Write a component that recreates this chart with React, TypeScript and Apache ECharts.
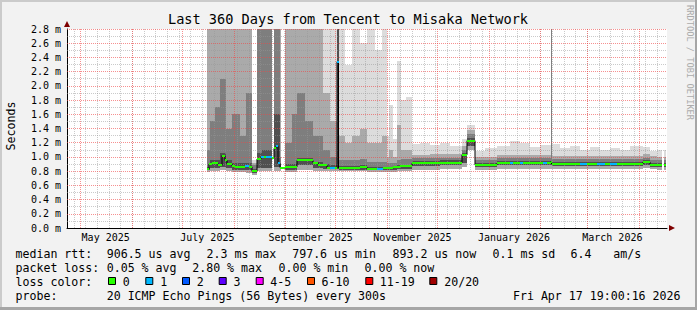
import React, { useEffect, useRef } from "react";
import * as echarts from "echarts";

// ---------- texts ----------
const TITLE = "Last 360 Days from Tencent to Misaka Network";
const Y_TITLE = "Seconds";
const WATERMARK = "RRDTOOL / TOBI OETIKER";

// ---------- time frame ----------
const START_UTC = Date.UTC(2025, 3, 22, 19, 0, 16);
const SPAN_DAYS = 360;
const Y_MAX = 2.8;
const Y_STEP = 0.2;

const xLabelText = ["May 2025", "July 2025", "September 2025", "November 2025", "January 2026", "March 2026"];
const xLabelDates = ["2025-05-16", "2025-07-16", "2025-09-16", "2025-11-16", "2026-01-16", "2026-03-16"];
const monthStartDates = [
  "2025-05-01", "2025-06-01", "2025-07-01", "2025-08-01", "2025-09-01", "2025-10-01",
  "2025-11-01", "2025-12-01", "2026-01-01", "2026-02-01", "2026-03-01", "2026-04-01",
];
const firstWeekDate = "2025-04-27";

// ---------- smoke (days since start; band boundaries in ms) ----------
const smokeEdges = [
  84.0, 85.8, 88.8, 91.8, 95.4, 99.0, 103.8, 107.4, 111.0, 113.7, 117.0, 123.0, 123.9, 127.5, 128.4,
  130.8, 135.0, 138.0, 142.8, 147.6, 153.6, 157.8, 161.7, 162.9, 166.8, 171.0, 175.8, 180.0, 184.8,
  189.0, 192.0, 193.2, 195.6, 198.0, 200.4, 203.4, 207.0, 211.8, 217.8, 223.8, 229.8, 237.0, 240.0,
  244.8, 250.8, 258.0, 265.8, 271.8, 277.8, 283.8, 290.1, 290.7, 295.8, 301.8, 307.8, 313.8, 319.8,
  325.8, 331.8, 337.8, 345.6, 349.8, 354.0, 357.0, 358.2, 359.4,
];
const smokeLow = [
  0.79, 0.8, 0.8, 0.81, 0.8, 0.79, 0.79, 0.78, 0.74, 0.8, 0.8, null, 0.8, 0.8, null,
  0.79, 0.79, 0.82, 0.82, 0.8, 0.8, 0.8, 0.8, 0.8, 0.8, 0.8, 0.8, 0.79, 0.79,
  0.79, 0.79, 0.79, 0.79, 0.8, 0.8, 0.8, 0.82, 0.82, 0.82, 0.83, 0.83, 0.86, 1.1,
  0.82, 0.82, 0.83, 0.83, 0.83, 0.83, 0.83, 0.83, 0.83, 0.83, 0.83, 0.83, 0.83, 0.83,
  0.83, 0.83, 0.83, 0.84, 0.83, 0.82, null, 0.82,
];
const smokeDark1 = [
  0.81, 0.84, 0.84, 0.86, 0.84, 0.82, 0.82, 0.82, 0.77, 0.85, 0.85, null, 0.86, 0.83, null,
  0.82, 0.82, 0.88, 0.88, 0.84, 0.83, 0.83, 0.83, 0.82, 0.82, 0.82, 0.82, 0.81, 0.81,
  0.81, 0.81, 0.81, 0.81, 0.83, 0.83, 0.83, 0.87, 0.87, 0.87, 0.88, 0.88, 0.92, 1.15,
  0.86, 0.86, 0.88, 0.88, 0.88, 0.88, 0.88, 0.88, 0.87, 0.87, 0.87, 0.87, 0.87, 0.87,
  0.87, 0.87, 0.87, 0.89, 0.86, 0.86, null, 0.86,
];
const smokeDark2 = [
  0.86, 0.95, 0.95, 1.05, 0.95, 0.92, 0.92, 0.92, 0.83, 1.05, 1.1, null, 1.6, 0.9, null,
  0.9, 0.9, 0.98, 0.98, 0.93, 0.9, 0.88, 3.0, 0.87, 0.87, 0.87, 0.88, 0.86, 0.86,
  0.86, 0.86, 0.86, 0.86, 0.88, 0.89, 0.89, 0.94, 0.94, 0.94, 0.95, 0.95, 1.06, 1.27,
  0.91, 0.91, 0.94, 0.94, 0.94, 0.94, 0.94, 0.94, 0.93, 0.93, 0.93, 0.93, 0.93, 0.93,
  0.93, 0.93, 0.93, 0.95, 0.92, 0.91, null, 0.91,
];
const smokeMid = [
  1.1, 1.5, 1.7, 2.1, 1.4, 1.6, 1.3, 1.9, 0.88, 3.0, 3.0, null, 3.0, 1.0, null,
  1.2, 1.6, 1.9, 1.5, 1.3, 1.1, 1.0, 3.0, 0.95, 0.95, 0.95, 0.97, 0.93, 0.93,
  0.93, 0.92, 0.92, 0.92, 0.96, 0.97, 0.97, 0.98, 0.98, 0.98, 0.99, 0.99, 1.1, 1.32,
  0.95, 0.95, 0.98, 0.98, 0.98, 0.98, 0.98, 3.0, 0.97, 0.97, 0.97, 0.97, 0.97, 0.97,
  0.97, 0.97, 0.97, 0.99, 0.96, 0.95, null, 0.95,
];
const smokeLight = [
  3.0, 3.0, 3.0, 3.0, 3.0, 3.0, 3.0, 3.0, 0.92, 3.0, 3.0, null, 3.0, 3.0, null,
  3.0, 3.0, 3.0, 3.0, 3.0, 1.9, 1.5, 3.0, 1.3, 1.2, 1.3, 1.4, 1.2, 1.2,
  1.3, 1.0, 1.1, 1.0, 1.45, 1.1, 1.1, 1.03, 1.03, 1.04, 1.04, 1.04, 1.15, 1.38,
  1.0, 1.0, 1.03, 1.03, 1.03, 1.03, 1.03, 3.0, 1.02, 1.02, 1.02, 1.02, 1.02, 1.02,
  1.02, 1.02, 1.02, 1.04, 1.01, 1.0, null, 1.0,
];
const smokeTop = [
  3.0, 3.0, 3.0, 3.0, 3.0, 3.0, 3.0, 3.0, 0.96, 3.0, 3.0, null, 3.0, 3.0, null,
  3.0, 3.0, 3.0, 3.0, 3.0, 3.0, 3.0, 3.0, 3.0, 2.3, 3.0, 2.6, 3.0, 2.5,
  3.0, 1.3, 1.73, 1.25, 2.35, 1.8, 1.85, 1.18, 1.2, 1.17, 1.2, 1.16, 1.25, 1.45,
  1.08, 1.12, 1.15, 1.23, 1.2, 1.14, 1.17, 3.0, 1.18, 1.12, 1.16, 1.1, 1.14, 1.1,
  1.13, 1.1, 1.15, 1.14, 1.08, 1.1, null, 1.1,
];

// ---------- median rtt (days since start, ms, lost pings) ----------
const medianEdges = [
  84.0, 85.2, 87.0, 90.6, 93.0, 94.8, 96.0, 99.0, 100.8, 106.8, 109.2, 111.0, 114.0, 116.4, 118.2,
  119.4, 123.0, 124.2, 125.4, 126.6, 127.8, 130.8, 138.0, 147.6, 150.6, 156.0, 157.8, 160.8, 162.0,
  162.9, 175.8, 180.0, 186.0, 189.6, 195.6, 199.8, 207.0, 223.8, 237.0, 240.0, 244.8, 258.0, 265.8,
  267.6, 271.8, 273.6, 285.6, 288.0, 290.1, 290.7, 307.8, 312.0, 318.0, 322.8, 325.8, 330.0, 345.6,
  349.8, 354.0, 357.0, 358.2, 359.4,
];
const medianRtt = [
  0.83, 0.9, 0.91, 0.88, 1.02, 0.95, 0.9, 0.87, 0.86, 0.87, 0.86, 0.8, 0.97, 1.0, 1.0,
  1.0, 0.99, 1.12, 1.15, 0.91, 0.85, 0.86, 0.95, 0.92, 0.88, 0.845, 0.845, 0.845, 2.34,
  0.845, 0.86, 0.83, 0.83, 0.84, 0.86, 0.87, 0.91, 0.92, 1.03, 1.23, 0.885, 0.91, 0.91,
  0.91, 0.915, 0.915, 0.915, 0.91, 0.93, 0.9, 0.905, 0.9, 0.9, 0.9, 0.9, 0.9, 0.93,
  0.89, 0.88, null, 0.88,
];
const medianLoss = [
  0, 0, 0, 0, 0, 0, 0, 0, 0, 1, 0, 0, 0, 1, 0,
  1, 0, 0, 1, 1, 0, 0, 0, 0, 0, 0, 1, 0, 1,
  0, 0, 0, 1, 0, 0, 0, 0, 0, 0, 0, 0, 0, 1,
  0, 1, 0, 1, 0, 0, 0, 1, 0, 1, 0, 1, 0, 0,
  0, 0, 0, 0,
];

// ---------- legend ----------
const lossLabels = ["0", "1", "2", "3", "4-5", "6-10", "11-19", "20/20"];
const lossMax = [0, 1, 2, 3, 5, 10, 19, 20];
const lossColors = ["#26FF00", "#00B8FF", "#0059FF", "#5E00FF", "#FF00FF", "#FF5500", "#FF0000", "#A00000"];
const rttStats = ["906.5 us avg", "2.3 ms max", "797.6 us min", "893.2 us now", "0.1 ms sd", "6.4", "am/s"];
const lossStats = ["0.05 % avg", "2.80 % max", "0.00 % min", "0.00 % now"];
const probeText = "20 ICMP Echo Pings (56 Bytes) every 300s";
const stampText = "Fri Apr 17 19:00:16 2026";

// ---------- styles ----------
const MONO = '"DejaVu Sans Mono", monospace';
const SMOKE_COLORS = ["#A9A9A9", "#505050", "#7E7E7E", "#AAAAAA", "#DCDCDC"];
const GRID_L = 67, GRID_T = 29, GRID_W = 600, GRID_H = 199;

const dayOf = (s: string) => (Date.parse(s + "T00:00:00Z") - START_UTC) / 86400000;
const lossColor = (n: number) => {
  for (let i = 0; i < lossMax.length; i++) if (n <= lossMax[i]) return lossColors[i];
  return lossColors[lossColors.length - 1];
};

export default function App() {
  const ref = useRef<HTMLDivElement>(null);
  useEffect(() => {
    const chart = echarts.init(ref.current!, null, { renderer: "svg" });

    const labelDays = xLabelDates.map(dayOf);
    const monthDays = monthStartDates.map(dayOf);
    const weekDays: number[] = [];
    for (let d = dayOf(firstWeekDate); d < SPAN_DAYS; d += 7) weekDays.push(d);

    const smokeData: number[][] = [];
    for (let i = 0; i < smokeLow.length; i++) {
      if (smokeLow[i] == null) continue;
      smokeData.push([
        smokeEdges[i], smokeEdges[i + 1], smokeLow[i] as number, smokeDark1[i] as number,
        smokeDark2[i] as number, smokeMid[i] as number, smokeLight[i] as number, smokeTop[i] as number,
      ]);
    }
    const medData: number[][] = [];
    const medLine: (number | null)[][] = [];
    for (let i = 0; i < medianRtt.length; i++) {
      const v = medianRtt[i];
      if (v == null) {
        medLine.push([medianEdges[i], null]);
        continue;
      }
      medData.push([medianEdges[i], medianEdges[i + 1], v, medianLoss[i]]);
      medLine.push([medianEdges[i], v], [medianEdges[i + 1], v]);
    }

    const red = "rgba(240,70,70,0.6)";
    const gray = "rgba(150,150,150,0.5)";
    const gridLines: any[] = [];
    weekDays.forEach((d) => gridLines.push({ xAxis: d, lineStyle: { color: gray, width: 1, type: [1, 1] } }));
    for (let k = 1; k <= Math.round(Y_MAX * 10); k++) {
      if (k % 2 === 1) gridLines.push({ yAxis: k / 10, lineStyle: { color: gray, width: 1, type: [1, 1] } });
    }
    monthDays.forEach((d) => gridLines.push({ xAxis: d, lineStyle: { color: red, width: 1, type: [1, 1] } }));
    for (let k = 1; k <= Math.round(Y_MAX * 10); k++) {
      if (k % 2 === 0) gridLines.push({ yAxis: k / 10, lineStyle: { color: red, width: 1, type: [1, 1] } });
    }

    const txt = (text: string, x: number, y: number, extra: any = {}) => ({
      type: "text",
      x,
      y,
      silent: true,
      style: { text, fontFamily: MONO, fontSize: 11.6, fill: "#000", align: "left", verticalAlign: "middle", ...extra },
    });

    const graphics: any[] = [
      txt(TITLE, 348, 19, { fontSize: 13.6, align: "center" }),
      { ...txt(Y_TITLE, 10.5, 126, { align: "center" }), rotation: Math.PI / 2 },
      { ...txt(WATERMARK, 689.5, 5, { fontSize: 8.7, fill: "#ABABAB" }), rotation: -Math.PI / 2 },
      txt("median rtt:", 15.5, 254),
      txt("packet loss:", 15.5, 268.3),
      txt("loss color:", 15.5, 281.7),
      txt("probe:", 15.5, 296),
    ];
    const rttX = [106.7, 206.5, 292.2, 392.5, 492.5, 570.5, 613.2];
    rttStats.forEach((s, i) => graphics.push(txt(s, rttX[i], 254)));
    const lossX = [106.7, 192.2, 278.5, 364.5];
    lossStats.forEach((s, i) => graphics.push(txt(s, lossX[i], 268.3)));
    const boxX = [108.5, 145.8, 182.5, 219.2, 256.2, 307.5, 365.8, 429.8];
    const lblX = [122.8, 160.2, 196.8, 233.5, 270.2, 321.5, 379.8, 444.2];
    lossLabels.forEach((s, i) => {
      graphics.push({
        type: "rect",
        silent: true,
        shape: { x: boxX[i], y: 277.5, width: 7, height: 7 },
        style: { fill: lossColors[i], stroke: "#000", lineWidth: 1 },
      });
      graphics.push(txt(s, lblX[i], 281.7));
    });
    graphics.push(txt(probeText, 106.7, 296));
    graphics.push(txt(stampText, 680.5, 296, { align: "right" }));
    // frame
    graphics.push(
      { type: "rect", silent: true, shape: { x: 0, y: 0, width: 697, height: 2 }, style: { fill: "#CBCBCB" } },
      { type: "rect", silent: true, shape: { x: 0, y: 0, width: 2, height: 310 }, style: { fill: "#CBCBCB" } },
      { type: "rect", silent: true, shape: { x: 0, y: 307, width: 697, height: 3 }, style: { fill: "#A6A6A6" } },
      { type: "rect", silent: true, shape: { x: 695, y: 0, width: 2, height: 310 }, style: { fill: "#A6A6A6" } }
    );

    const option: any = {
      animation: false,
      backgroundColor: "#F2F2F2",
      grid: {
        left: GRID_L, top: GRID_T, width: GRID_W, height: GRID_H,
        show: true, backgroundColor: "#FFFFFF", borderWidth: 0,
      },
      xAxis: {
        type: "value",
        min: 0,
        max: SPAN_DAYS,
        axisLine: { show: true, lineStyle: { color: "#000", width: 1 } },
        axisTick: { show: false },
        splitLine: { show: false },
        axisLabel: {
          customValues: labelDays,
          formatter: (v: number) => {
            const i = labelDays.findIndex((d) => Math.abs(d - v) < 0.01);
            return i >= 0 ? xLabelText[i] : "";
          },
          fontFamily: MONO,
          fontSize: 10,
          color: "#000",
          margin: 4,
        },
      },
      yAxis: {
        type: "value",
        min: 0,
        max: Y_MAX,
        interval: Y_STEP,
        axisLine: { show: true, lineStyle: { color: "#000", width: 1 } },
        axisTick: { show: false },
        splitLine: { show: false },
        axisLabel: {
          formatter: (v: number) => v.toFixed(1) + " m",
          fontFamily: MONO,
          fontSize: 10,
          color: "#000",
          margin: 6,
        },
      },
      series: [
        {
          type: "custom",
          name: "smoke",
          z: 1,
          silent: true,
          data: smokeData,
          encode: { x: [0, 1], y: [2, 7] },
          renderItem: (_p: any, api: any) => {
            const x0 = Math.round(api.coord([api.value(0), 0])[0]);
            const x1 = Math.round(api.coord([api.value(1), 0])[0]);
            const w = Math.max(1, x1 - x0);
            const children: any[] = [];
            for (let k = 0; k < 5; k++) {
              const lo = Math.min(api.value(2 + k), Y_MAX);
              const hi = Math.min(api.value(3 + k), Y_MAX);
              if (hi <= lo) continue;
              const yLo = Math.round(api.coord([0, lo])[1]);
              const yHi = Math.round(api.coord([0, hi])[1]);
              if (yLo - yHi <= 0) continue;
              children.push({
                type: "rect",
                shape: { x: x0, y: yHi, width: w, height: yLo - yHi },
                style: { fill: SMOKE_COLORS[k] },
              });
            }
            return { type: "group", children };
          },
        },
        {
          type: "line",
          name: "grid",
          z: 2,
          silent: true,
          data: [],
          markLine: {
            z: 2,
            silent: true,
            symbol: ["none", "none"],
            label: { show: false },
            emphasis: { disabled: true },
            data: gridLines,
          },
          markPoint: {
            z: 6,
            silent: true,
            label: { show: false },
            data: [
              { coord: [0, Y_MAX], symbol: "triangle", symbolSize: [6, 6], symbolOffset: [0, -5], itemStyle: { color: "#7F0000" } },
              { coord: [SPAN_DAYS, 0], symbol: "triangle", symbolSize: [6, 6], symbolRotate: -90, symbolOffset: [5, 0], itemStyle: { color: "#7F0000" } },
            ],
          },
        },
        {
          type: "line",
          name: "median outline",
          z: 3,
          silent: true,
          data: medLine,
          showSymbol: false,
          symbol: "none",
          connectNulls: false,
          lineStyle: { color: "#000", width: 1 },
        },
        {
          type: "custom",
          name: "median",
          z: 4,
          silent: true,
          data: medData,
          encode: { x: [0, 1], y: 2 },
          renderItem: (_p: any, api: any) => {
            const x0 = Math.round(api.coord([api.value(0), 0])[0]);
            const x1 = Math.round(api.coord([api.value(1), 0])[0]);
            const y = Math.round(api.coord([0, api.value(2)])[1]);
            return {
              type: "rect",
              shape: { x: x0, y: y - 1, width: Math.max(1, x1 - x0), height: 2 },
              style: { fill: lossColor(api.value(3)) },
            };
          },
        },
      ],
      graphic: graphics,
    };
    chart.setOption(option);
    return () => chart.dispose();
  }, []);
  return <div ref={ref} style={{ position: "absolute", left: 0, top: 0, width: 697, height: 310 }} />;
}
